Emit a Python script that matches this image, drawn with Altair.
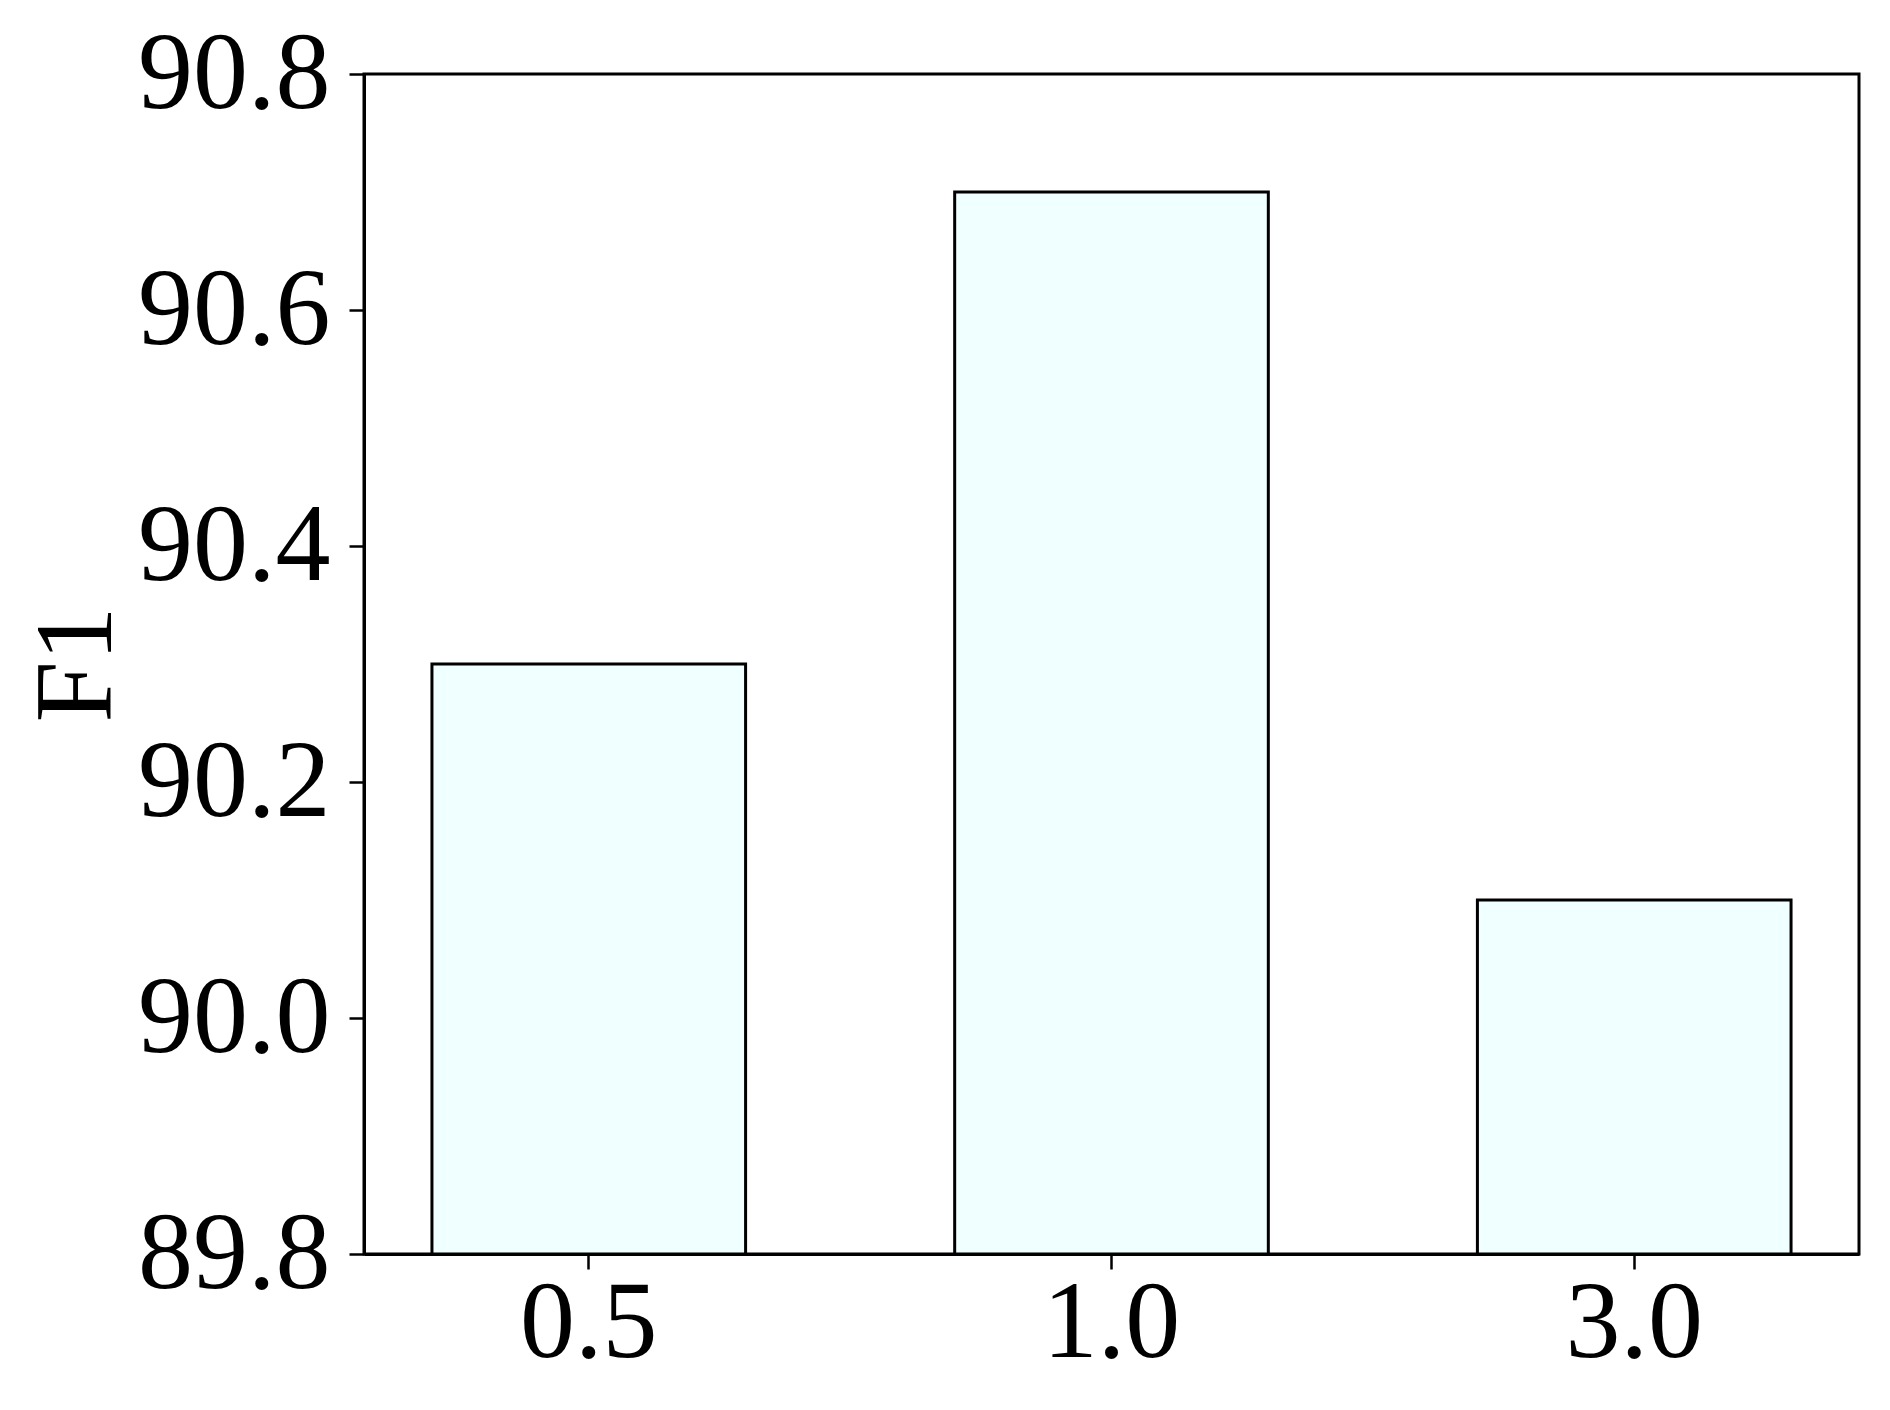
import altair as alt
import pandas as pd

categories = ["0.5", "1.0", "3.0"]
f1_values = [90.3, 90.7, 90.1]
y_ticks = [89.8, 90.0, 90.2, 90.4, 90.6, 90.8]
y_base = 89.8

df = pd.DataFrame({"cat": categories, "f1": f1_values})

FONT = "Times New Roman, Liberation Serif, serif"

chart = alt.Chart(df).mark_bar(
    fill="#F0FFFF", stroke="black", strokeWidth=3
).encode(
    x=alt.X("cat:N", sort=categories, title=None,
            scale=alt.Scale(paddingInner=0.4, paddingOuter=0.13),
            axis=alt.Axis(labelAngle=0, labelFont=FONT, labelFontSize=110,
                          labelColor="black", tickColor="black", tickSize=15,
                          tickWidth=2.5, domainColor="black", domainWidth=3,
                          labelPadding=0, grid=False, labelLimit=0)),
    y=alt.Y("f1:Q", title="F1",
            scale=alt.Scale(domain=[89.8, 90.8], zero=False, nice=False),
            axis=alt.Axis(values=y_ticks, format=".1f", labelFont=FONT,
                          labelFontSize=110, labelColor="black", tickColor="black",
                          tickSize=15, tickWidth=2.5, domainColor="black",
                          domainWidth=3, labelPadding=19, grid=False, labelLimit=0,
                          titleFont=FONT, titleFontSize=110, titleFontWeight="normal",
                          titleColor="black", titleX=-287, titleBaseline="middle")),
    y2=alt.datum(y_base),
).properties(
    width=1495,
    height=1180,
    background="white",
    padding={"left": 14, "top": 11, "right": 20, "bottom": 10},
).configure_view(
    stroke="black", strokeWidth=3
)

chart.save("out.html", embed_options={"renderer": "svg", "actions": False})
